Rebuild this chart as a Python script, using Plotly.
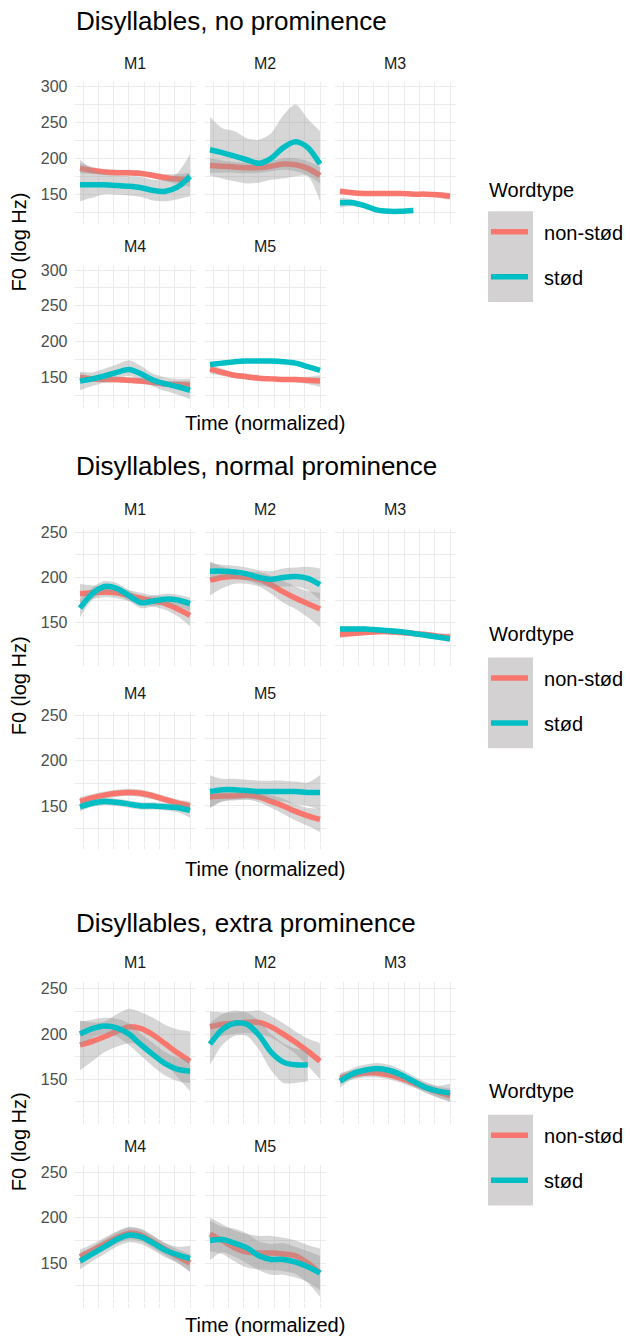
import plotly.graph_objects as go

# ---------------- data ----------------
TIME = [1, 2, 3, 4, 5, 6, 7, 8, 9, 10]
SPEAKERS = ["M1", "M2", "M3", "M4", "M5"]
WORDTYPES = ["non-stød", "stød"]
LEGEND_TITLE = "Wordtype"
PLOT_TITLES = ["Disyllables, no prominence",
               "Disyllables, normal prominence",
               "Disyllables, extra prominence"]
Y_TICKS = [[150, 200, 250, 300], [150, 200, 250], [150, 200, 250]]

# --- no prominence ---
none_nonstod_mean = {
    "M1": [186, 183, 181, 180, 180, 179, 176, 173, 171, 170],
    "M2": [190, 189, 188, 187, 187, 189, 192, 191, 186, 176],
    "M3": [154, 152, 151, 151, 151, 151, 150, 150, 149, 147],
    "M4": [150, 148, 147, 147, 146, 145, 143, 141, 140, 139],
    "M5": [162, 157, 153, 151, 149, 148, 147, 147, 146, 145],
}
none_nonstod_lo = {
    "M1": [179, 178, 177, 176, 176, 175, 172, 168, 164, 160],
    "M2": [180, 180, 180, 179, 180, 182, 184, 182, 176, 165],
    "M3": [150, 149, 148, 148, 148, 148, 147, 147, 145, 142],
    "M4": [144, 144, 143, 143, 142, 141, 139, 137, 135, 133],
    "M5": [155, 152, 149, 147, 146, 145, 144, 143, 141, 137],
}
none_nonstod_hi = {
    "M1": [193, 188, 185, 184, 184, 183, 180, 178, 178, 180],
    "M2": [200, 197, 195, 194, 194, 196, 200, 200, 196, 188],
    "M3": [158, 155, 154, 154, 154, 154, 153, 153, 153, 152],
    "M4": [156, 152, 151, 151, 150, 149, 147, 145, 145, 145],
    "M5": [169, 162, 157, 155, 152, 151, 150, 151, 151, 153],
}
none_stod_mean = {
    "M1": [163, 163, 163, 162, 161, 159, 155, 154, 160, 175],
    "M2": [212, 208, 203, 198, 193, 200, 215, 223, 215, 192],
    "M3": [138, 138, 134, 128, 126, 126, 127],
    "M4": [145, 148, 152, 157, 161, 155, 146, 141, 137, 132],
    "M5": [168, 170, 172, 173, 173, 173, 172, 170, 165, 160],
}
none_stod_lo = {
    "M1": [140, 145, 150, 149, 148, 146, 141, 140, 143, 147],
    "M2": [176, 172, 168, 165, 166, 170, 172, 175, 175, 140],
    "M3": [131, 133, 131, 126, 124, 124, 125],
    "M4": [132, 138, 143, 148, 152, 146, 137, 131, 126, 120],
    "M5": [166, 168, 170, 171, 171, 171, 170, 168, 163, 158],
}
none_stod_hi = {
    "M1": [198, 185, 178, 176, 175, 174, 170, 170, 180, 206],
    "M2": [258, 242, 238, 228, 226, 235, 260, 275, 255, 238],
    "M3": [145, 143, 137, 130, 128, 128, 129],
    "M4": [158, 157, 162, 168, 174, 166, 155, 150, 148, 148],
    "M5": [170, 172, 174, 175, 175, 175, 174, 172, 167, 162],
}

# --- normal prominence ---
normal_nonstod_mean = {
    "M1": [182, 183, 184, 183, 180, 177, 174, 171, 165, 158],
    "M2": [197, 200, 201, 200, 198, 192, 184, 177, 171, 165],
    "M3": [137, 138, 139, 140, 140, 139, 138, 137, 135, 134],
    "M4": [155, 159, 162, 164, 165, 164, 161, 157, 153, 150],
    "M5": [160, 161, 161, 162, 160, 155, 150, 144, 139, 135],
}
normal_nonstod_lo = {
    "M1": [172, 176, 178, 177, 174, 171, 168, 164, 157, 146],
    "M2": [180, 188, 193, 193, 190, 182, 172, 165, 156, 145],
    "M3": [133, 135, 136, 137, 137, 136, 135, 134, 132, 130],
    "M4": [150, 155, 158, 160, 161, 160, 157, 153, 149, 145],
    "M5": [148, 155, 156, 157, 154, 148, 141, 134, 128, 121],
}
normal_nonstod_hi = {
    "M1": [193, 191, 190, 189, 186, 183, 180, 178, 173, 170],
    "M2": [218, 212, 209, 207, 206, 202, 196, 190, 185, 183],
    "M3": [141, 141, 142, 143, 143, 142, 141, 140, 138, 138],
    "M4": [160, 163, 166, 168, 169, 168, 165, 161, 157, 155],
    "M5": [166, 166, 166, 167, 166, 162, 158, 152, 148, 147],
}
normal_stod_mean = {
    "M1": [166, 182, 190, 188, 180, 172, 174, 176, 175, 171],
    "M2": [207, 207, 206, 204, 200, 198, 200, 201, 199, 192],
    "M3": [143, 143, 143, 142, 141, 140, 138, 136, 134, 132],
    "M4": [149, 153, 155, 154, 152, 150, 150, 149, 148, 145],
    "M5": [166, 168, 168, 167, 166, 166, 166, 166, 165, 165],
}
normal_stod_lo = {
    "M1": [156, 175, 184, 182, 174, 166, 168, 170, 168, 163],
    "M2": [198, 200, 199, 197, 192, 189, 190, 190, 186, 175],
    "M3": [140, 140, 140, 139, 138, 137, 135, 133, 131, 128],
    "M4": [144, 149, 151, 150, 148, 146, 146, 145, 143, 137],
    "M5": [148, 155, 157, 157, 157, 156, 155, 152, 150, 146],
}
normal_stod_hi = {
    "M1": [176, 189, 196, 194, 186, 178, 180, 182, 181, 178],
    "M2": [216, 214, 213, 211, 208, 207, 210, 211, 212, 210],
    "M3": [146, 146, 146, 145, 144, 143, 141, 139, 137, 136],
    "M4": [154, 157, 159, 158, 156, 154, 154, 153, 153, 153],
    "M5": [184, 180, 180, 179, 178, 178, 178, 177, 176, 184],
}

# --- extra prominence ---
extra_nonstod_mean = {
    "M1": [188, 192, 197, 203, 208, 206, 199, 189, 179, 170],
    "M2": [208, 211, 212, 213, 213, 208, 200, 191, 181, 170],
    "M3": [151, 155, 157, 157, 155, 151, 146, 141, 136, 132],
    "M4": [157, 164, 171, 178, 183, 181, 173, 165, 157, 150],
    "M5": [182, 175, 167, 162, 161, 161, 160, 158, 150, 139],
}
extra_nonstod_lo = {
    "M1": [160, 170, 180, 186, 190, 188, 180, 168, 152, 137],
    "M2": [193, 198, 200, 201, 200, 196, 188, 178, 165, 150],
    "M3": [145, 150, 152, 152, 150, 146, 141, 136, 130, 125],
    "M4": [149, 157, 164, 171, 176, 174, 166, 158, 150, 141],
    "M5": [163, 160, 152, 145, 143, 142, 141, 138, 128, 113],
}
extra_nonstod_hi = {
    "M1": [215, 213, 214, 222, 228, 224, 218, 210, 205, 203],
    "M2": [225, 224, 224, 225, 226, 220, 212, 203, 195, 190],
    "M3": [157, 160, 162, 162, 160, 156, 151, 146, 142, 140],
    "M4": [165, 171, 178, 185, 190, 188, 180, 172, 165, 160],
    "M5": [200, 193, 186, 182, 180, 180, 178, 175, 170, 166],
}
extra_stod_mean = {
    "M1": [200, 206, 209, 207, 200, 188, 177, 167, 161, 159],
    "M2": [189, 205, 212, 211, 199, 180, 169, 166, 166],
    "M3": [148, 156, 160, 162, 160, 155, 148, 141, 137, 135],
    "M4": [152, 160, 168, 176, 181, 179, 172, 164, 159, 155],
    "M5": [175, 176, 172, 167, 158, 154, 154, 151, 146, 139],
}
extra_stod_lo = {
    "M1": [186, 196, 200, 197, 188, 176, 164, 154, 148, 146],
    "M2": [166, 188, 198, 198, 183, 160, 146, 146, 148],
    "M3": [141, 150, 154, 156, 154, 149, 142, 135, 130, 126],
    "M4": [143, 152, 160, 168, 173, 171, 164, 156, 150, 140],
    "M5": [153, 162, 157, 150, 142, 137, 137, 134, 129, 120],
}
extra_stod_hi = {
    "M1": [214, 216, 218, 217, 212, 200, 190, 180, 174, 172],
    "M2": [212, 222, 226, 224, 215, 200, 190, 184, 182],
    "M3": [155, 162, 166, 168, 166, 161, 154, 147, 143, 145],
    "M4": [161, 168, 176, 184, 189, 187, 180, 172, 168, 169],
    "M5": [197, 190, 188, 183, 174, 171, 172, 168, 163, 158],
}

PLOTS = [
    {"nonstod": (none_nonstod_mean, none_nonstod_lo, none_nonstod_hi),
     "stod": (none_stod_mean, none_stod_lo, none_stod_hi)},
    {"nonstod": (normal_nonstod_mean, normal_nonstod_lo, normal_nonstod_hi),
     "stod": (normal_stod_mean, normal_stod_lo, normal_stod_hi)},
    {"nonstod": (extra_nonstod_mean, extra_nonstod_lo, extra_nonstod_hi),
     "stod": (extra_stod_mean, extra_stod_lo, extra_stod_hi)},
]

# ---------------- layout geometry (pixels) ----------------
W, H = 630, 1338
FONT = "Liberation Sans"
COLORS = {"nonstod": "#F8766D", "stod": "#00BFC4"}
RIBBON = "rgba(153,153,153,0.4)"
GRID = "#EBEBEB"

COL_X = [(74.5, 195.5), (204.5, 325.5), (334.5, 455.5)]
# (row1 top, row1 bottom, row2 top, row2 bottom)
ROWS_Y = [(77.7, 215.0, 261.7, 399.0),
          (525.7, 658.0, 709.7, 842.0),
          (980.3, 1118.3, 1164.7, 1302.7)]
Y_RANGES = [[115, 306], [108, 254], [106, 258]]
TITLE_Y = [16, 463, 921]
XTITLE_Y = [420, 867, 1325]
LEGEND_TITLE_Y = [186, 631, 1090]
LEGEND_TOP = [208, 656, 1115]
KEYBOX = [(207, 298), (655, 746), (1114, 1205)]
NBSP = "\u00a0\u00a0"


def px(x):
    return x / W


def py(y):
    return 1 - y / H


fig = go.Figure()
layout = {}
annotations = []
shapes = []
legend_names = ["legend", "legend2", "legend3"]

n = 0
for p in range(3):
    r1t, r1b, r2t, r2b = ROWS_Y[p]
    for si, spk in enumerate(SPEAKERS):
        n += 1
        row = 0 if si < 3 else 1
        col = si if si < 3 else si - 3
        x0, x1 = COL_X[col]
        top, bot = (r1t, r1b) if row == 0 else (r2t, r2b)
        xa = "xaxis" if n == 1 else f"xaxis{n}"
        ya = "yaxis" if n == 1 else f"yaxis{n}"
        xr = "x" if n == 1 else f"x{n}"
        yr = "y" if n == 1 else f"y{n}"
        layout[xa] = dict(
            domain=[px(x0), px(x1)], anchor=yr, range=[0.55, 10.45],
            tick0=0, dtick=1.25, showticklabels=False, showgrid=True,
            gridcolor=GRID, gridwidth=1.2, zeroline=False, showline=False,
            ticks="outside", ticklen=4, tickcolor=GRID, tickwidth=1.2,
            fixedrange=True)
        layout[ya] = dict(
            domain=[py(bot), py(top)], anchor=xr, range=Y_RANGES[p],
            tickmode="array", tickvals=Y_TICKS[p],
            showticklabels=(col == 0), showgrid=True, gridcolor=GRID,
            gridwidth=1.2, zeroline=False, showline=False, ticks="",
            tickfont=dict(family=FONT, size=16, color="#4D4D4D"),
            ticklabelstandoff=6,
            minor=dict(dtick=25, tick0=0, showgrid=True, gridcolor=GRID,
                       gridwidth=1.2, ticks=""),
            fixedrange=True)
        annotations.append(dict(
            text=spk, x=px((x0 + x1) / 2), y=py(top - 19), xref="paper",
            yref="paper", showarrow=False, xanchor="center", yanchor="middle",
            font=dict(family=FONT, size=16, color="#1A1A1A")))
        for key, wt in zip(["nonstod", "stod"], WORDTYPES):
            mean, lo, hi = PLOTS[p][key]
            ys = mean[spk]
            xs = TIME[:len(ys)]
            fig.add_trace(go.Scatter(
                x=xs, y=lo[spk], xaxis=xr, yaxis=yr, mode="lines",
                line=dict(width=0, shape="spline", smoothing=0.8),
                hoverinfo="skip", showlegend=False))
            fig.add_trace(go.Scatter(
                x=xs, y=hi[spk], xaxis=xr, yaxis=yr, mode="lines",
                line=dict(width=0, shape="spline", smoothing=0.8),
                fill="tonexty", fillcolor=RIBBON,
                hoverinfo="skip", showlegend=False))
            fig.add_trace(go.Scatter(
                x=xs, y=ys, xaxis=xr, yaxis=yr, mode="lines",
                name=NBSP + wt,
                line=dict(color=COLORS[key], width=5.5, shape="spline",
                          smoothing=0.8),
                legend=legend_names[p], legendgroup=f"{p}-{key}",
                showlegend=(si == 0)))

    # titles
    annotations.append(dict(
        text=PLOT_TITLES[p], x=px(74), y=py(TITLE_Y[p]), xref="paper",
        yref="paper", showarrow=False, xanchor="left", yanchor="middle",
        font=dict(family=FONT, size=26, color="#000000")))
    annotations.append(dict(
        text="Time (normalized)", x=px((COL_X[0][0] + COL_X[2][1]) / 2),
        y=py(XTITLE_Y[p]), xref="paper", yref="paper", showarrow=False,
        xanchor="center", yanchor="middle",
        font=dict(family=FONT, size=20, color="#000000")))
    annotations.append(dict(
        text="F0 (log Hz)", x=px(19), y=py((r1t + r2b) / 2), xref="paper",
        yref="paper", showarrow=False, textangle=-90, xanchor="center",
        yanchor="middle", font=dict(family=FONT, size=20, color="#000000")))
    # legend title and key background
    annotations.append(dict(
        text=LEGEND_TITLE, x=px(487), y=py(LEGEND_TITLE_Y[p]), xref="paper",
        yref="paper", showarrow=False, xanchor="left", yanchor="middle",
        font=dict(family=FONT, size=20, color="#000000")))
    kt, kb = KEYBOX[p]
    shapes.append(dict(type="rect", xref="paper", yref="paper",
                       x0=px(488), x1=px(533), y0=py(kb), y1=py(kt),
                       fillcolor="#D3D1D1", line=dict(width=0), layer="below"))
    layout[legend_names[p]] = dict(
        x=px(486), y=py(LEGEND_TOP[p]), xanchor="left", yanchor="top",
        bgcolor="rgba(0,0,0,0)", borderwidth=0,
        font=dict(family=FONT, size=20, color="#000000"),
        traceorder="grouped", tracegroupgap=16, itemwidth=37)

fig.update_layout(
    width=W, height=H, margin=dict(l=0, r=0, t=0, b=0),
    paper_bgcolor="white", plot_bgcolor="white",
    annotations=annotations, shapes=shapes, showlegend=True,
    font=dict(family=FONT), **layout)

fig.write_html("out.html")
